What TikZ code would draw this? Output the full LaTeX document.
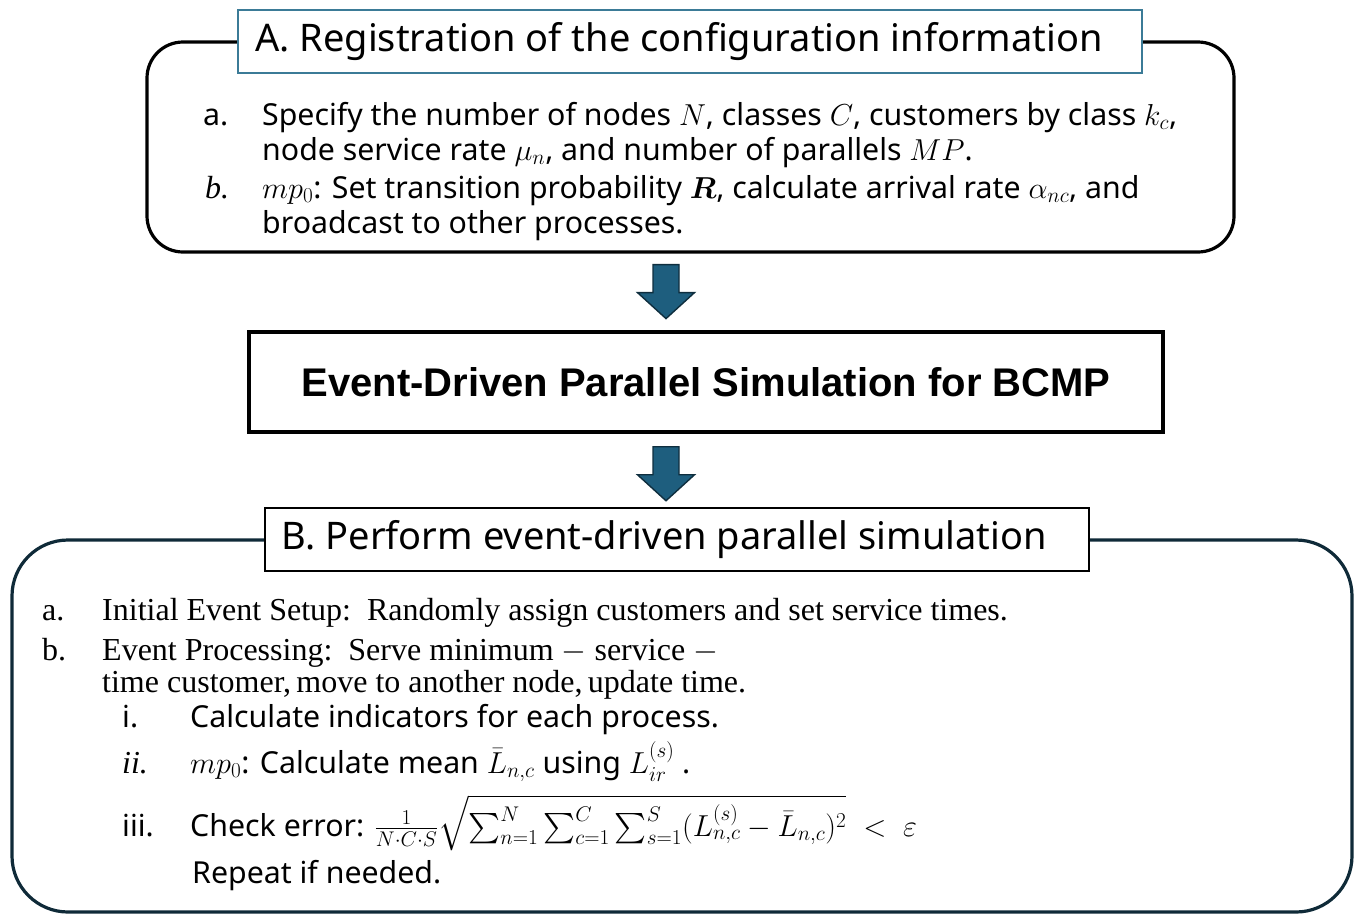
\RequirePackage{fix-cm}
\documentclass[tikz,border=0pt]{standalone}
\usepackage{amsmath,amssymb}
\usepackage[no-math]{fontspec}
\usetikzlibrary{calc}
\newfontfamily\uisans{Noto Sans}
\newfontfamily\uiserif{Liberation Serif}
\newfontfamily\corefont{Liberation Sans}

\definecolor{titleblue}{HTML}{3B7B97}
\definecolor{arrowfill}{HTML}{1E5E7E}
\definecolor{arrowedge}{HTML}{0F2E3E}
\definecolor{frameB}{HTML}{0F2A38}

\tikzset{
  groupframe/.style={draw=#1, line width=3.2pt, rounded corners=36pt, inner sep=0pt},
  titlebox/.style={draw=#1, line width=1.8pt, fill=white, inner sep=0pt,
    minimum height=63pt, font=\uisans\fontsize{38}{44}\selectfont},
  corebox/.style={draw=black, line width=3.5pt, inner sep=0pt, fill=white,
    minimum width=914pt, minimum height=100pt,
    font=\corefont\bfseries\fontsize{40}{46}\selectfont},
  blockarrow/.style={fill=arrowfill, draw=arrowedge, line width=1.4pt, line join=miter},
  itemsans/.style={anchor=base west, inner sep=0pt, font=\uisans\fontsize{30.3}{36}\selectfont},
  itemserif/.style={anchor=base west, inner sep=0pt, font=\uiserif\fontsize{32}{38}\selectfont},
}

% downward block arrow hanging below a given point
\newcommand\downblock[1]{%
  \draw[blockarrow] ($(#1)+(-13,0)$) -- ($(#1)+(13,0)$) -- ($(#1)+(13,28)$)
    -- ($(#1)+(28.5,28)$) -- ($(#1)+(0,54)$) -- ($(#1)+(-28.5,28)$)
    -- ($(#1)+(-13,28)$) -- cycle;}

\begin{document}
\begin{tikzpicture}[x=1pt,y=-1pt]
\useasboundingbox (0,0) rectangle (1358,914);

% ---- group A: configuration ----
\node[groupframe=black, minimum width=1087pt, minimum height=210pt] (boxA) at (690.5,147) {};
\node[titlebox=titleblue, minimum width=904pt] (titleA) at (690,41.5)
  {A. Registration of the configuration information\hspace*{22pt}};

\node[itemsans] (Aa) at (203,125) {a.};
\node[itemsans] (Aa1) at (262,125) {Specify the number of nodes $N$, classes $C$, customers by class $k_c$,};
\node[itemsans] (Aa2) at (262,160) {node service rate $\mu_n$, and number of parallels $MP$.};
\node[itemserif] (Ab) at (205,198) {\itshape b.};
\node[itemsans] (Ab1) at (262,198) {$mp_0$: Set transition probability $\boldsymbol{R}$, calculate arrival rate $\alpha_{nc}$, and};
\node[itemsans] (Ab2) at (262,233) {broadcast to other processes.};

% ---- central step ----
\node[corebox] (core) at (706,382) {Event-Driven Parallel Simulation for BCMP};

\coordinate (arrA) at ($(boxA.south)+(-24.5,11)$);
\downblock{arrA}
\coordinate (arrB) at ($(core.south)+(-40,13)$);
\downblock{arrB}

% ---- group B: simulation ----
\node[groupframe=frameB, rounded corners=56pt, minimum width=1340pt, minimum height=372pt] (boxB) at (682,726) {};
\node[titlebox=black, minimum width=824pt] (titleB) at (677,539.5)
  {B. Perform event-driven parallel simulation\hspace*{26pt}};

\node[itemserif] (Ba) at (42,620) {a.};
\node[itemserif] (Ba1) at (102,620) {Initial Event Setup:\ \ Randomly assign customers and set service times.};
\node[itemserif] (Bb) at (42,660) {b.};
\node[itemserif] (Bb1) at (102,660) {Event Processing:\ \ Serve minimum $-$ service $-$};
\node[itemserif] (Bb2) at (102,692) {time customer,\,move to another node,\,update time.};

\node[itemsans] (Bi) at (122,727) {i.};
\node[itemsans] (Bi1) at (190,727) {Calculate indicators for each process.};
\node[itemserif] (Bii) at (122,773) {\itshape ii.};
\node[itemsans] (Bii1) at (190,773) {$mp_0$: Calculate mean $\bar{L}_{n,c}$ using $L_{ir}^{(s)}$ .};
\node[itemsans] (Biii) at (122,836) {iii.};
\node[itemsans] (Biii1) at (190,836) {Check error: $\frac{1}{N\cdot C\cdot S}\sqrt{\sum_{n=1}^{N}\sum_{c=1}^{C}\sum_{s=1}^{S}(L_{n,c}^{(s)}-\bar{L}_{n,c})^2}\;<\;\varepsilon$};
\node[itemsans] (Brep) at (192,883) {Repeat if needed.};
\end{tikzpicture}
\end{document}
